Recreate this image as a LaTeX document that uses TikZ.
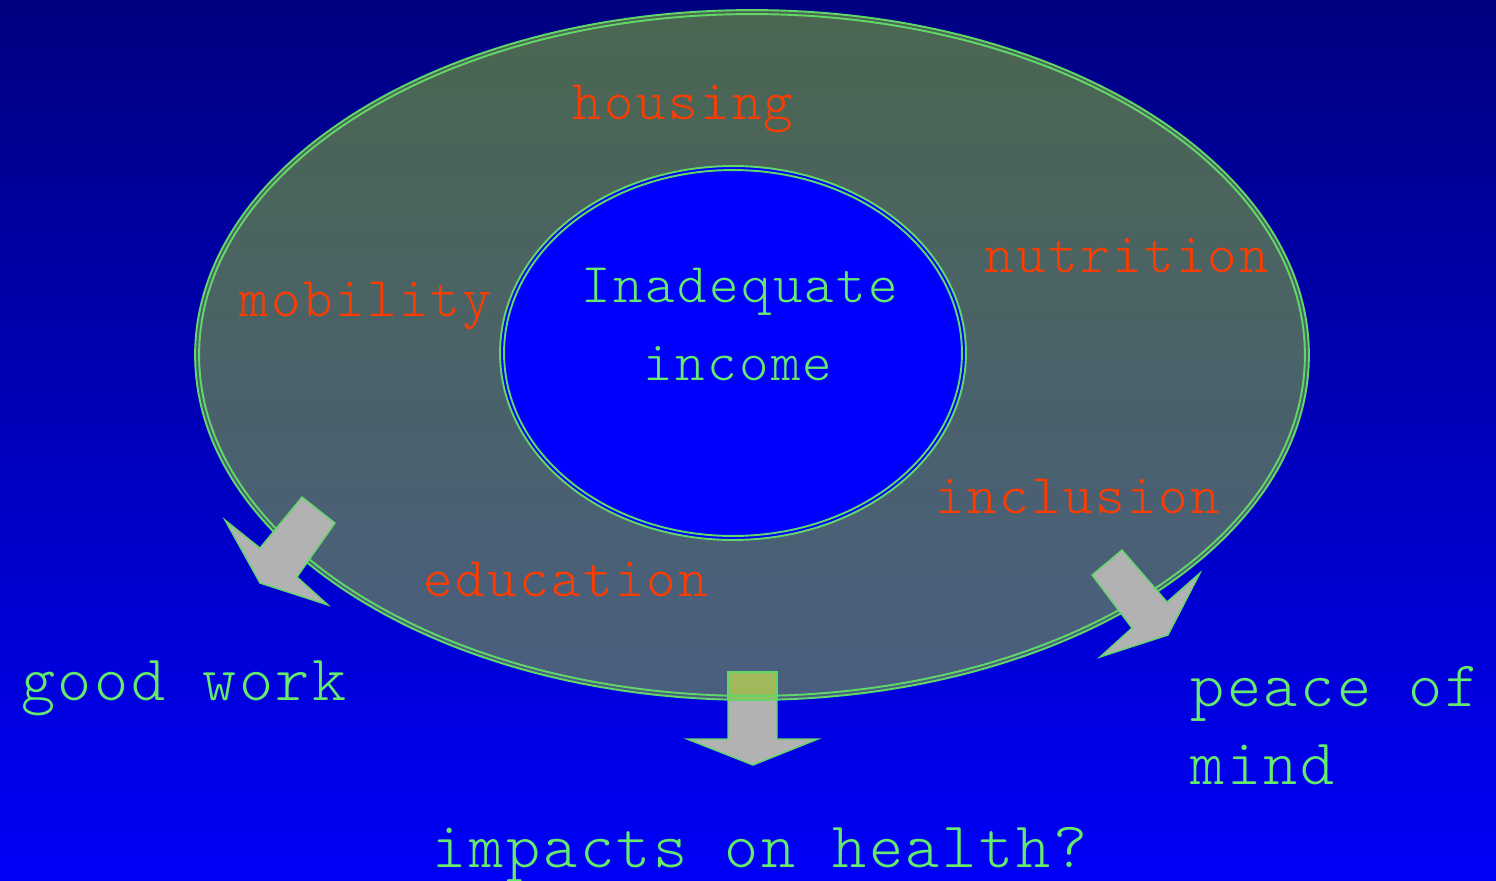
\documentclass[tikz,border=0pt]{standalone}
\usepackage{fontspec}
\newfontfamily\thinmono[LetterSpace=4.2]{lmmonolt10-regular.otf}
\newfontfamily\thinmonobig[LetterSpace=4.1]{lmmonolt10-regular.otf}

\definecolor{navytop}{RGB}{0,0,128}
\definecolor{bluebot}{RGB}{0,0,248}
\definecolor{ringtop}{RGB}{75,102,80}
\definecolor{ringbot}{RGB}{74,94,128}
\definecolor{rimgreen}{RGB}{95,215,105}
\definecolor{labelred}{RGB}{255,60,0}
\definecolor{labelgreen}{RGB}{100,235,110}
\definecolor{arrowgrey}{RGB}{178,178,178}
\definecolor{shaftolive}{RGB}{160,185,90}

\tikzset{
  factor/.style={text=labelred, font=\thinmono\fontsize{32}{38}\selectfont, anchor=base, inner sep=0pt},
  outcome/.style={text=labelgreen, font=\thinmonobig\fontsize{37}{44}\selectfont, inner sep=0pt},
  centretext/.style={text=labelgreen, font=\thinmono\fontsize{32}{38}\selectfont, anchor=base, inner sep=0pt},
  blockarrow/.style={fill=arrowgrey, draw=rimgreen, line width=0.8pt},
  rim/.style={draw=rimgreen, line width=1.1pt},
}

\begin{document}
\begin{tikzpicture}[x=0.02cm, y=-0.02cm]
% Background
\shade[top color=navytop, bottom color=bluebot] (0,0) rectangle (1496,880);
\useasboundingbox (0,0) rectangle (1496,880);

% Arrow down to health
\draw[blockarrow] (728,672) -- (777,672) -- (777,739) -- (818,739) -- (753,765)
  -- (687,739) -- (728,739) -- cycle;

% Outer ring
\shade[top color=ringtop, bottom color=ringbot] (752,355) ellipse [x radius=11.14cm, y radius=6.9cm];
\begin{scope}
  \clip (752,355) ellipse [x radius=11.14cm, y radius=6.9cm];
  \draw[fill=shaftolive, draw=rimgreen, line width=0.8pt] (728,672) rectangle (777,760);
\end{scope}
\draw[rim] (752,355) ellipse [x radius=11.14cm, y radius=6.9cm];
\draw[rim] (752,355) ellipse [x radius=11.06cm, y radius=6.82cm];

% Inner circle
\fill[blue] (733,353) ellipse [x radius=4.66cm, y radius=3.74cm];
\draw[rim] (733,353) ellipse [x radius=4.66cm, y radius=3.74cm];
\draw[rim] (733,353) ellipse [x radius=4.58cm, y radius=3.66cm];

% Side arrows
\draw[blockarrow] (302,497) -- (335,523) -- (297,577) -- (328,605) -- (260,583)
  -- (225,520) -- (260,548) -- cycle;
\draw[blockarrow] (1092,575) -- (1122,550) -- (1167,602) -- (1200,573) -- (1168,635)
  -- (1100,657) -- (1132,628) -- cycle;

% Labels in the ring
\node[factor] (housing) at (683,119) {housing};
\node[factor] (nutrition) at (1127,272) {nutrition};
\node[factor] (mobility) at (366,316) {mobility};
\node[factor] (inclusion) at (1078,513) {inclusion};
\node[factor] (education) at (566,596) {education};

% Centre
\node[centretext] (lack) at (740,302) {Inadequate};
\node[centretext] (income) at (738,380) {income};

% Outcomes
\node[outcome, anchor=base] (work) at (184,700) {good work};
\node[outcome, anchor=base west] (peace) at (1190,706) {peace of};
\node[outcome, anchor=base west] (mind) at (1190,784) {mind};
\node[outcome, anchor=base] (health) at (760,867) {impacts on health?};
\end{tikzpicture}
\end{document}
